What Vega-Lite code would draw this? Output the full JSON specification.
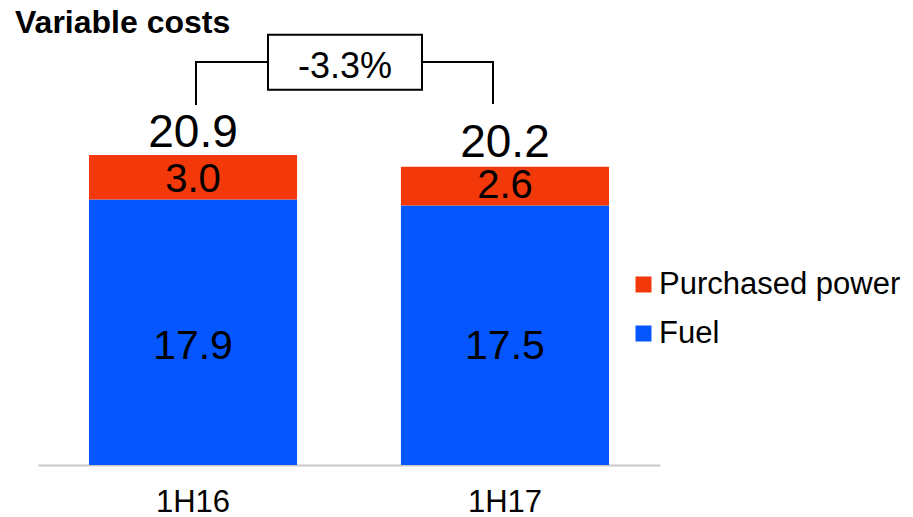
{
  "$schema": "https://vega.github.io/schema/vega-lite/v6.json",
  "width": 622,
  "height": 425,
  "autosize": "none",
  "padding": {"left": 38, "top": 40, "right": 253, "bottom": 52},
  "background": "white",
  "title": {"text": "Variable costs", "anchor": "start", "frame": "group", "fontSize": 32, "fontWeight": "bold", "font": "Liberation Sans", "color": "black", "dx": -23, "dy": 38, "offset": 7, "baseline": "alphabetic"},
  "config": {"view": {"stroke": null}, "font": "Liberation Sans"},
  "layer": [
    {
      "data": {"values": [
        {"period": "1H16", "series": "Fuel", "value": 17.9},
        {"period": "1H16", "series": "Purchased power", "value": 3.0},
        {"period": "1H17", "series": "Fuel", "value": 17.5},
        {"period": "1H17", "series": "Purchased power", "value": 2.6}
      ]},
      "layer": [
        {
          "mark": {"type": "bar"},
          "encoding": {
            "x": {"field": "period", "type": "nominal", "scale": {"paddingInner": 0.333, "paddingOuter": 0.1635},
                  "axis": {"title": null, "labelAngle": 0, "labelFontSize": 31, "labelColor": "black", "labelFont": "Liberation Sans", "ticks": false, "domainColor": "#C8C8C8", "domainWidth": 2, "labelPadding": 22}},
            "y": {"field": "value", "type": "quantitative", "stack": "zero", "scale": {"domain": [0, 28.652], "nice": false}, "axis": null},
            "color": {"field": "series", "type": "nominal",
                      "scale": {"domain": ["Purchased power", "Fuel"], "range": ["#F3380A", "#0556FF"]},
                      "legend": {"title": null, "orient": "none", "legendX": 590, "legendY": 229, "symbolType": "square", "symbolSize": 256, "symbolStrokeWidth": 0, "labelFontSize": 31, "labelFont": "Liberation Sans", "labelOffset": 0, "rowPadding": 17, "labelLimit": 400, "labelColor": "black", "padding": 0}},
            "order": {"field": "series", "type": "nominal", "sort": "ascending"}
          }
        },
        {
          "transform": [
            {"stack": "value", "groupby": ["period"], "sort": [{"field": "series", "order": "ascending"}], "as": ["v0", "v1"]},
            {"filter": "datum.series === 'Purchased power'"}
          ],
          "mark": {"type": "text", "fontSize": 40, "baseline": "alphabetic", "dy": -7, "color": "black"},
          "encoding": {
            "x": {"field": "period", "type": "nominal"},
            "y": {"field": "v0", "type": "quantitative", "scale": {"domain": [0, 28.652], "nice": false}},
            "text": {"field": "value", "type": "quantitative", "format": ".1f"}
          }
        },
        {
          "transform": [
            {"stack": "value", "groupby": ["period"], "sort": [{"field": "series", "order": "ascending"}], "as": ["v0", "v1"]},
            {"filter": "datum.series === 'Fuel'"}
          ],
          "mark": {"type": "text", "fontSize": 41, "baseline": "alphabetic", "dy": -106, "color": "black"},
          "encoding": {
            "x": {"field": "period", "type": "nominal"},
            "y": {"field": "v0", "type": "quantitative", "scale": {"domain": [0, 28.652], "nice": false}},
            "text": {"field": "value", "type": "quantitative", "format": ".1f"}
          }
        },
        {
          "data": {"values": [
            {"period": "1H16", "total": 20.9},
            {"period": "1H17", "total": 20.2}
          ]},
          "mark": {"type": "text", "fontSize": 46, "baseline": "alphabetic", "dy": -8, "color": "black"},
          "encoding": {
            "x": {"field": "period", "type": "nominal"},
            "y": {"field": "total", "type": "quantitative", "scale": {"domain": [0, 28.652], "nice": false}},
            "text": {"field": "total", "type": "quantitative", "format": ".1f"}
          }
        }
      ]
    },
    {
      "layer": [
        {
          "data": {"values": [
            {"bx": 0.008, "by": 24.27, "step": 1},
            {"bx": 0.008, "by": 27.17, "step": 2},
            {"bx": 0.963, "by": 27.17, "step": 3},
            {"bx": 0.963, "by": 24.34, "step": 4}
          ]},
          "mark": {"type": "line", "color": "black", "strokeWidth": 2},
          "encoding": {
            "x": {"field": "bx", "type": "quantitative", "scale": {"domain": [-0.5, 1.5], "nice": false, "zero": false}, "axis": null},
            "y": {"field": "by", "type": "quantitative", "scale": {"domain": [0, 28.652], "nice": false}},
            "order": {"field": "step", "type": "quantitative"}
          }
        },
        {
          "data": {"values": [
            {"x0": 0.2395, "x1": 0.7347, "y0": 25.29, "y1": 29.0}
          ]},
          "mark": {"type": "rect", "fill": "white", "stroke": "black", "strokeWidth": 2},
          "encoding": {
            "x": {"field": "x0", "type": "quantitative", "scale": {"domain": [-0.5, 1.5], "nice": false, "zero": false}, "axis": null},
            "x2": {"field": "x1"},
            "y": {"field": "y0", "type": "quantitative", "scale": {"domain": [0, 28.652], "nice": false}},
            "y2": {"field": "y1"}
          }
        },
        {
          "data": {"values": [
            {"tx": 0.487, "ty": 26.09, "label": "-3.3%"}
          ]},
          "mark": {"type": "text", "fontSize": 36, "baseline": "alphabetic", "color": "black"},
          "encoding": {
            "x": {"field": "tx", "type": "quantitative", "scale": {"domain": [-0.5, 1.5], "nice": false, "zero": false}, "axis": null},
            "y": {"field": "ty", "type": "quantitative", "scale": {"domain": [0, 28.652], "nice": false}},
            "text": {"field": "label", "type": "nominal"}
          }
        }
      ]
    }
  ],
  "resolve": {"scale": {"x": "independent"}}
}
